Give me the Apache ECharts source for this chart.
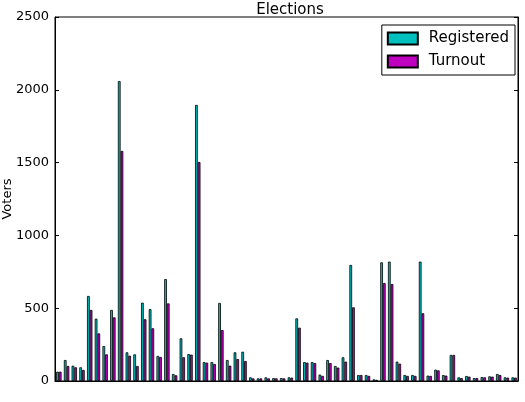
<!DOCTYPE html>
<html><head><meta charset="utf-8">
<script src="https://cdn.jsdelivr.net/npm/echarts@6/dist/echarts.min.js"></script>
<style>html,body{margin:0;padding:0;background:#fff}#c{width:525px;height:402px}</style>
</head><body><div id="c"></div>
<script>
const categories = Array.from({length: 60}, (_, i) => String(i + 1));
const registered = [64,144,105,94,584,428,240,488,2060,197,183,538,494,172,700,48,293,185,1896,130,130,536,144,197,201,25,18,25,20,20,25,430,130,130,44,144,103,163,797,41,41,11,815,820,133,41,41,820,37,78,41,179,25,34,20,27,32,48,25,25];
const turnout = [64,103,94,76,488,327,183,437,1580,174,103,424,362,165,533,39,163,181,1504,126,117,350,105,151,137,18,18,18,18,18,23,366,126,123,35,123,92,133,506,41,35,8,673,666,119,35,35,465,35,73,37,179,20,30,20,25,30,41,23,23];
const yTicks = [0, 500, 1000, 1500, 2000, 2500];

const font = 'DejaVu Sans';
const chart = echarts.init(document.getElementById('c'), null, {renderer: 'canvas'});
chart.setOption({
  animation: false,
  backgroundColor: '#fff',
  textStyle: {fontFamily: font, color: '#000'},
  title: {text: 'Elections', left: 285, textAlign: 'center', top: -2,
    textStyle: {fontFamily: font, fontSize: 15, fontWeight: 'normal', color: '#000'}},
  grid: {left: 55, right: 7, top: 17, bottom: 21, containLabel: false, outerBoundsMode: 'none',
    show: true, borderColor: '#000', borderWidth: 1, backgroundColor: 'transparent'},
  legend: {
    right: 10, top: 25, orient: 'vertical', icon: 'rect',
    itemWidth: 30, itemHeight: 12, itemGap: 8,
    padding: [6, 6, 6, 5],
    borderColor: '#000', borderWidth: 1, backgroundColor: '#fff',
    textStyle: {fontFamily: font, fontSize: 15, color: '#000', padding: [0, 0, 0, 6]},
    data: ['Registered', 'Turnout']
  },
  xAxis: {
    type: 'category', data: categories, boundaryGap: true,
    axisLine: {show: true, lineStyle: {color: '#000'}},
    axisTick: {show: false}, axisLabel: {show: false}, splitLine: {show: false}
  },
  yAxis: [{
    type: 'value', min: yTicks[0], max: yTicks[yTicks.length - 1], interval: 500,
    name: 'Voters', nameLocation: 'middle', nameRotate: 90, nameGap: 41, nameMoveOverlap: false,
    nameTextStyle: {fontFamily: font, fontSize: 13, color: '#000'},
    axisLine: {show: true, lineStyle: {color: '#000'}},
    axisTick: {show: true, inside: true, length: 4, lineStyle: {color: '#000'}},
    axisLabel: {fontFamily: font, fontSize: 13, color: '#000', margin: 6, formatter: v => String(v)},
    splitLine: {show: false}
  }, {
    type: 'value', min: yTicks[0], max: yTicks[yTicks.length - 1], interval: 500, position: 'right',
    axisLine: {show: true, lineStyle: {color: '#000'}},
    axisTick: {show: true, inside: true, length: 4, lineStyle: {color: '#000'}},
    axisLabel: {show: false}, splitLine: {show: false}
  }],
  series: [{
    name: 'Registered', type: 'bar', data: registered, barWidth: '35%', barGap: '0%',
    itemStyle: {color: '#00bfbf', borderColor: '#000', borderWidth: 0.8}
  }, {
    name: 'Turnout', type: 'bar', data: turnout, barWidth: '35%', barGap: '0%',
    itemStyle: {color: '#bf00bf', borderColor: '#000', borderWidth: 0.8}
  }]
});
</script></body></html>
